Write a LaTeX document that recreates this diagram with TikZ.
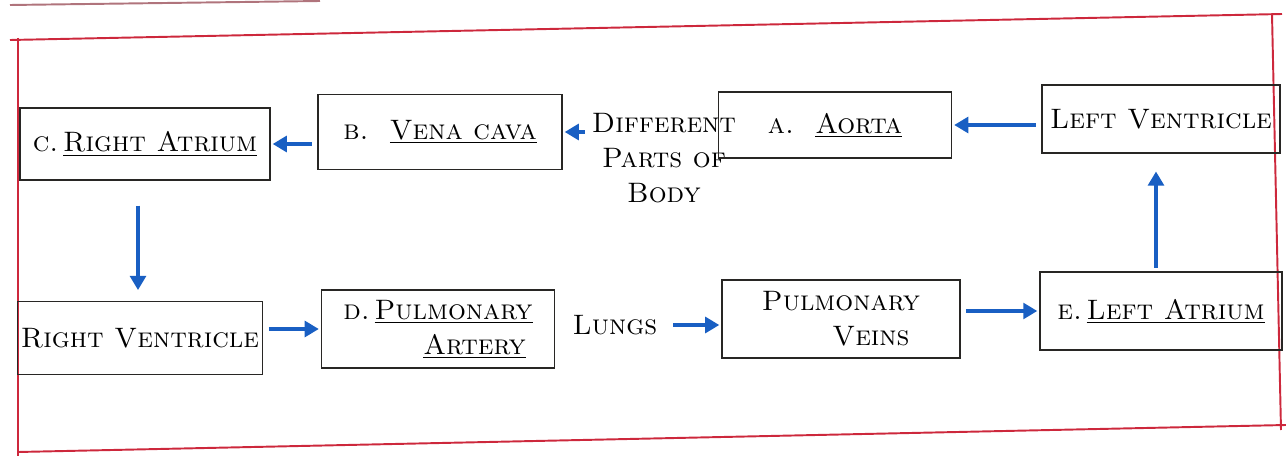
\documentclass[tikz,border=0pt]{standalone}
\usepackage{xcolor}
\definecolor{Col1}{RGB}{205,40,60}
\definecolor{Col2}{RGB}{25,95,195}
\definecolor{Col6}{RGB}{40,38,36}
\usepackage{tikz}
\usetikzlibrary{arrows.meta}
\tikzstyle{Box}=[draw=Col6,line width=1.1pt,inner sep=2pt,font=\fontsize{16}{20}\selectfont\scshape]
\tikzstyle{NodeST}=[font=\fontsize{16}{20}\selectfont\scshape,align=center,inner sep=1pt]
\tikzstyle{Edge}=[draw=Col2,line width=1.8pt,-{Triangle[length=8pt,width=9pt]},
shorten >=1pt,shorten <=3pt]
\tikzstyle{Frame}=[draw=Col1,line width=1.1pt]

\begin{document}
\begin{tikzpicture}[x=.02cm,y=-.02cm]
        \useasboundingbox(0,0)rectangle(1286,456);
        % page frame
        \draw[Frame,draw=Col1!60!black,opacity=.6](10,5)--(320,1);
        \draw[Frame](10,40)--(1282,14);
        \draw[Frame](18,38)--(18,456);
        \draw[Frame](1272,14)--(1281,430);
        \draw[Frame](18,452)--(1286,425);
        % top row
        \node[Box,minimum width=5cm,minimum height=1.44cm](RA)at(145,144)
            {c.\,\underline{Right Atrium}};
        \node[Box,minimum width=4.88cm,minimum height=1.5cm](VC)at(440,132)
            {b.~~\underline{Vena cava}};
        \node[NodeST](Body)at(664,158){Different\\Parts of\\Body};
        \node[Box,minimum width=4.66cm,minimum height=1.32cm](Ao)at(835,125)
            {a.~~\underline{Aorta}};
        \node[Box,minimum width=4.76cm,minimum height=1.36cm](LV)at(1161,119)
            {Left Ventricle};
        % bottom row
        \node[Box,minimum width=4.9cm,minimum height=1.46cm](RV)at(140,338)
            {Right Ventricle};
        \node[Box,minimum width=4.66cm,minimum height=1.56cm,align=left](PA)at(438,329)
            {d.\,\underline{Pulmonary}\\\hspace*{1.6cm}\underline{Artery}};
        \node[NodeST](Lungs)at(615,325){Lungs};
        \node[Box,minimum width=4.76cm,minimum height=1.56cm,align=center](PV)at(841,319)
            {Pulmonary\\\hspace*{1.2cm}Veins};
        \node[Box,minimum width=4.84cm,minimum height=1.56cm](LA)at(1161,311)
            {e.\,\underline{Left Atrium}};
        % arrows
        \draw[Edge](LV.west|-Ao.east)--(Ao.east);
        \draw[Edge](Body.west|-VC.east)--(VC.east);
        \draw[Edge](VC.west|-RA.east)--(RA.east);
        \draw[Edge,shorten <=14pt,shorten >=6pt]([xshift=-.14cm]RA.south)
            --([xshift=-.14cm]RA.south|-RV.north);
        \draw[Edge](RV.east|-PA.west)--(PA.west);
        \draw[Edge,shorten <=8pt](Lungs.east)--(PV.west|-Lungs.east);
        \draw[Edge](PV.east|-LA.west)--(LA.west);
        \draw[Edge,shorten >=10pt,shorten <=2pt]([xshift=-.1cm]LA.north)
            --([xshift=-.1cm]LV.south);
    \end{tikzpicture}
\end{document}
